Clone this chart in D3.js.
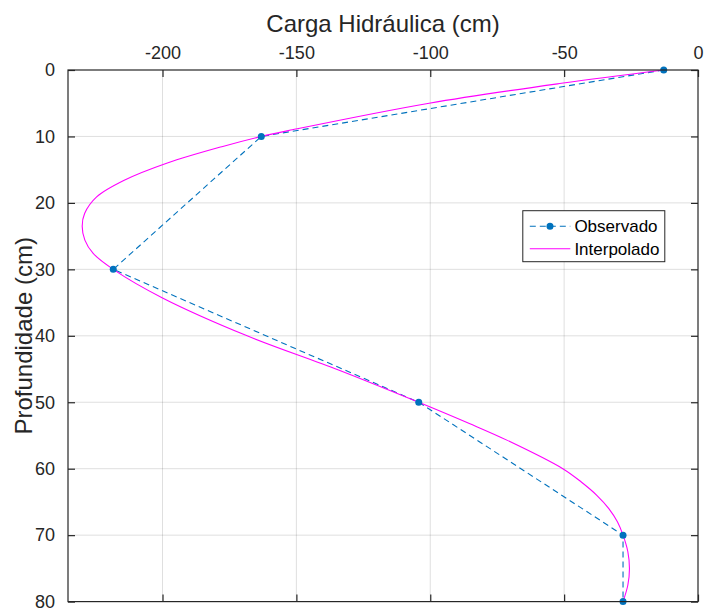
<!DOCTYPE html>
<html>
<head>
<meta charset="utf-8">
<script src="https://cdn.jsdelivr.net/npm/d3@7"></script>
<style>
  body { margin: 0; background: #fff; }
  svg { font-family: 'Liberation Sans', Arial, sans-serif; }
  .axis text { fill: #262626; font-size: 18px; }
  .axis .domain { display: none; }
  .axis line { stroke: #262626; stroke-width: 1.2; }
  .grid line { stroke: #262626; stroke-opacity: 0.15; stroke-width: 1; }
</style>
</head>
<body>
<div id="chart"></div>
<script>
// observed profile (depth in cm, head in cm)
const obsDepth = [0, 10, 30, 50, 70, 80];
const obsHead = [-12.8, -163.1, -218.4, -104.3, -28, -28];

// interpolated curve
const interpDepth = [0, 2, 5, 9, 10, 11.5, 14, 16.6, 19.1, 21.6, 23.5, 25.6, 27.6, 30, 34.3, 40, 45.1, 50, 53.2, 55.7, 60, 62, 64, 66, 68, 70, 72.5, 75, 77.5, 80];
const interpHead = [-12.8, -51, -100.4, -151.5, -163.1, -177.5, -198.2, -214.3, -224.6, -229.1, -230, -229, -225.9, -218.4, -200, -168.4, -134.5, -104.3, -85.4, -71.4, -50.5, -43.6, -37.8, -33.3, -30.1, -28, -26.2, -25.6, -26.2, -28];

const headTicks = [-200, -150, -100, -50, 0];
const depthTicks = [0, 10, 20, 30, 40, 50, 60, 70, 80];
const seriesNames = ['Observado', 'Interpolado'];

// dimensions
const WIDTH = 704;
const HEIGHT = 608;
const LEFT = 68;
const RIGHT = 698;
const TOP = 70;
const BOTTOM = 601.6;
const TICK = 7;

const OBS_COLOR = '#0072BD';
const INT_COLOR = '#FF00FF';

const $svg = d3.select('#chart').append('svg')
  .attr('width', WIDTH)
  .attr('height', HEIGHT);

const scaleX = d3.scaleLinear().domain([-235.3, 0]).range([LEFT, RIGHT]);
const scaleY = d3.scaleLinear().domain([0, 80]).range([TOP, BOTTOM]);

// plain hyphen minus, like the original
const fmt = (d) => String(d);

// grid
const $grid = $svg.append('g').attr('class', 'grid');
$grid.selectAll('.gx').data(headTicks.filter((d) => d !== 0))
  .join('line')
  .attr('x1', (d) => scaleX(d)).attr('x2', (d) => scaleX(d))
  .attr('y1', TOP).attr('y2', BOTTOM);
$grid.selectAll('.gy').data(depthTicks.slice(1, -1))
  .join('line')
  .attr('y1', (d) => scaleY(d)).attr('y2', (d) => scaleY(d))
  .attr('x1', LEFT).attr('x2', RIGHT);

// series
const obsData = obsDepth.map((d, i) => ({ depth: d, head: obsHead[i] }));
const intData = interpDepth.map((d, i) => ({ depth: d, head: interpHead[i] }));

const $vis = $svg.append('g').attr('class', 'g-vis');

const line = d3.line()
  .x((d) => scaleX(d.head))
  .y((d) => scaleY(d.depth));

$vis.append('path')
  .datum(obsData)
  .attr('fill', 'none')
  .attr('stroke', OBS_COLOR)
  .attr('stroke-width', 1.1)
  .attr('stroke-dasharray', '6,4')
  .attr('d', line);

$vis.append('path')
  .datum(intData)
  .attr('fill', 'none')
  .attr('stroke', INT_COLOR)
  .attr('stroke-width', 1.1)
  .attr('d', line.curve(d3.curveCatmullRom.alpha(0.5)));

$vis.selectAll('.dot').data(obsData)
  .join('circle')
  .attr('class', 'dot')
  .attr('cx', (d) => scaleX(d.head))
  .attr('cy', (d) => scaleY(d.depth))
  .attr('r', 3.5)
  .attr('fill', OBS_COLOR);

// axes box
const $axis = $svg.append('g');
$axis.append('g').attr('class', 'axis')
  .attr('transform', `translate(0,${TOP})`)
  .call(d3.axisTop(scaleX).tickValues(headTicks).tickSize(-TICK).tickFormat(fmt))
  .call((g) => g.selectAll('.tick text').attr('dy', 0).attr('y', -11));
$axis.append('g').attr('class', 'axis')
  .attr('transform', `translate(0,${BOTTOM})`)
  .call(d3.axisBottom(scaleX).tickValues(headTicks).tickSize(-TICK).tickFormat(''));
$axis.append('g').attr('class', 'axis')
  .attr('transform', `translate(${LEFT},0)`)
  .call(d3.axisLeft(scaleY).tickValues(depthTicks).tickSize(-TICK).tickPadding(13).tickFormat(fmt));
$axis.append('g').attr('class', 'axis')
  .attr('transform', `translate(${RIGHT},0)`)
  .call(d3.axisRight(scaleY).tickValues(depthTicks).tickSize(-TICK).tickFormat(''));

$axis.append('rect')
  .attr('x', LEFT).attr('y', TOP)
  .attr('width', RIGHT - LEFT).attr('height', BOTTOM - TOP)
  .attr('fill', 'none')
  .attr('stroke', '#262626')
  .attr('stroke-width', 1.2);

// titles
$svg.append('text')
  .attr('x', (LEFT + RIGHT) / 2)
  .attr('y', 31.5)
  .attr('text-anchor', 'middle')
  .attr('fill', '#262626')
  .style('font-size', '24px')
  .text('Carga Hidráulica (cm)');

$svg.append('text')
  .attr('transform', `translate(31.5,${(TOP + BOTTOM) / 2}) rotate(-90)`)
  .attr('text-anchor', 'middle')
  .attr('fill', '#262626')
  .style('font-size', '24px')
  .text('Profundidade (cm)');

// legend
const $legend = $svg.append('g').attr('transform', 'translate(522.8,210.7)');
$legend.append('rect')
  .attr('width', 142).attr('height', 51)
  .attr('fill', '#fff')
  .attr('stroke', '#262626')
  .attr('stroke-width', 1);

const rows = $legend.selectAll('.row').data(seriesNames)
  .join('g')
  .attr('transform', (d, i) => `translate(0,${15.5 + i * 22.6})`);

rows.append('line')
  .attr('x1', 7).attr('x2', 47.5)
  .attr('stroke', (d, i) => (i === 0 ? OBS_COLOR : INT_COLOR))
  .attr('stroke-width', 1.1)
  .attr('stroke-dasharray', (d, i) => (i === 0 ? '6,4' : null));

rows.filter((d, i) => i === 0).append('circle')
  .attr('cx', 27.2).attr('r', 3.5).attr('fill', OBS_COLOR);

rows.append('text')
  .attr('x', 51.6)
  .attr('dy', '0.35em')
  .attr('fill', '#000')
  .style('font-size', '17px')
  .text((d) => d);
</script>
</body>
</html>
